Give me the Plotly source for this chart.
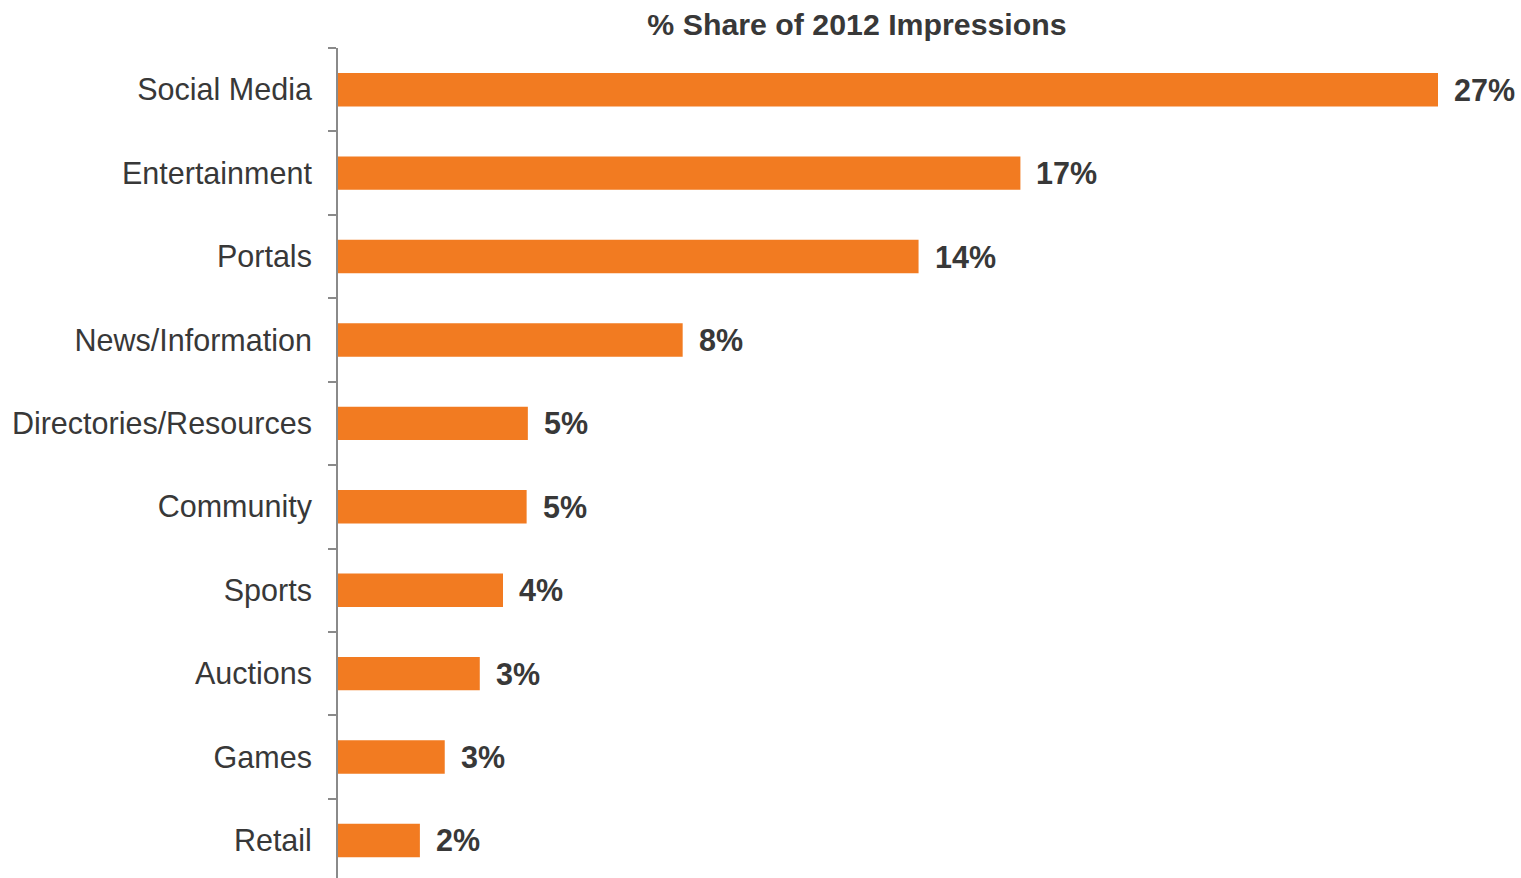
import plotly.graph_objects as go

# Share of 2012 impressions by site category (percent)
categories = [
    "Social Media", "Entertainment", "Portals", "News/Information",
    "Directories/Resources", "Community", "Sports", "Auctions", "Games", "Retail",
]
share_pct = [27.0, 16.75, 14.25, 8.46, 4.66, 4.63, 4.05, 3.48, 2.62, 2.01]

BAR_COLOR = "#F27B21"
TEXT_COLOR = "#383838"
FONT = "Liberation Sans, Arial, sans-serif"

fig = go.Figure(
    go.Bar(
        x=share_pct,
        y=categories,
        orientation="h",
        marker=dict(color=BAR_COLOR, line=dict(width=0)),
        width=0.4,
        hoverinfo="x+y",
    )
)

# value labels placed just past the end of each bar
for cat, val in zip(categories, share_pct):
    fig.add_annotation(
        x=val, y=cat, xref="x", yref="y",
        text=f"<b>{val:.0f}%</b>",
        showarrow=False, xanchor="left", yanchor="middle",
        xshift=14,
        font=dict(family=FONT, size=30.5, color=TEXT_COLOR),
    )

fig.update_layout(
    width=1521, height=878,
    margin=dict(l=338, r=0, t=48, b=0),
    paper_bgcolor="white", plot_bgcolor="white",
    showlegend=False,
    title=dict(
        text="<b>% Share of 2012 Impressions</b>",
        x=857 / 1521, xref="container", xanchor="center",
        y=1 - 24 / 878, yref="container", yanchor="middle",
        font=dict(family=FONT, size=30.3, color=TEXT_COLOR),
    ),
    xaxis=dict(
        range=[0, 27 * 1183 / 1100],
        visible=False, showgrid=False, zeroline=False, fixedrange=True,
    ),
    yaxis=dict(
        type="category",
        range=[9.45, -0.5],
        showline=True, linecolor="#8a8a8a", linewidth=2,
        ticks="outside", tickson="boundaries", ticklen=8,
        tickcolor="#8a8a8a", tickwidth=2,
        ticklabelstandoff=18,
        showgrid=False, zeroline=False,
        tickfont=dict(family=FONT, size=30.5, color=TEXT_COLOR),
    ),
)

fig.write_html("out.html")
